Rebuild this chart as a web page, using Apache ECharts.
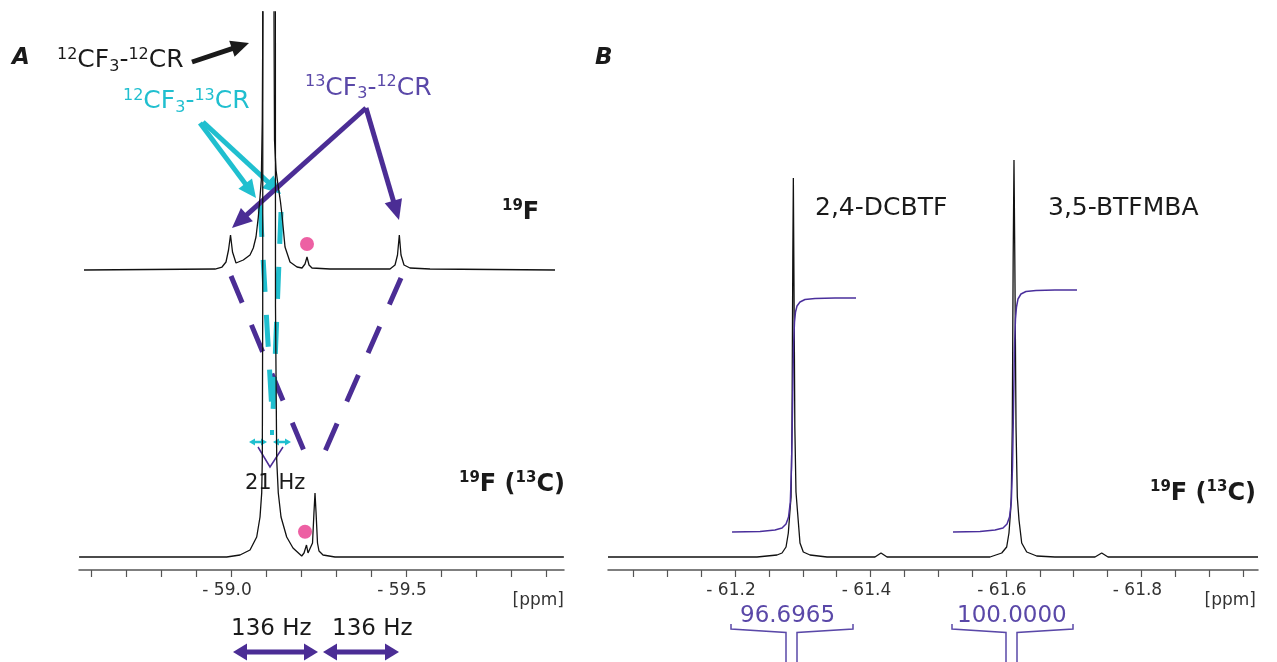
<!DOCTYPE html>
<html><head><meta charset="utf-8">
<script src="https://cdn.jsdelivr.net/npm/echarts@6/dist/echarts.min.js"></script>
<style>html,body{margin:0;padding:0;background:#fff}#c{width:1277px;height:662px}</style>
</head><body><div id="c"></div>
<script>
// ---------- DATA (ppm, intensity above the spectrum's own baseline) ----------
// Panel A, top trace: 19F
const specA_19F = [
 [-58.58,0],[-58.9543,1],[-58.9743,3],[-58.9857,8],[-58.9929,20],[-58.9986,35],[-59.0043,18],
 [-59.0143,7],[-59.0351,10],[-59.0543,15],[-59.0637,22],[-59.0714,33],[-59.0780,53],[-59.0829,73],
 [-59.0866,90],[-59.0894,150],[-59.0909,250],[-59.0920,1000],[-59.1071,3000],[-59.1214,1000],
 [-59.1229,250],[-59.1243,130],[-59.1286,100],[-59.1343,85],[-59.1414,68],[-59.1457,55],
 [-59.1543,23],[-59.1686,8],[-59.1886,3],[-59.2029,2],[-59.2114,6],[-59.2171,13],[-59.2229,5],
 [-59.2314,2],[-59.2829,1],[-59.4543,1],[-59.4686,5],[-59.4757,15],[-59.4809,35],[-59.4857,15],
 [-59.4943,5],[-59.5114,2],[-59.5686,1],[-59.9257,0]
];
// Panel A, bottom trace: 19F (13C)
const specA_19F13C = [
 [-58.5660,0],[-58.9877,0],[-59.0257,2],[-59.0543,7],[-59.0734,20],[-59.0829,40],[-59.0877,64],
 [-59.0894,97],[-59.0906,250],[-59.0920,2000],[-59.1086,5000],[-59.1251,2000],[-59.1271,250],
 [-59.1306,97],[-59.1351,64],[-59.1429,40],[-59.1591,20],[-59.1771,9],[-59.2020,1],[-59.2086,4],
 [-59.2157,12],[-59.2200,4],[-59.2257,2],[-59.2329,14],[-59.2371,45],[-59.2400,64],[-59.2429,45],
 [-59.2471,14],[-59.2514,6],[-59.2629,2],[-59.2971,0],[-59.9510,0]
];
// Panel B: 19F (13C) with integrals
const specB = [
 [-61.0125,0],[-61.2325,0],[-61.2620,2],[-61.2694,4],[-61.2753,10],[-61.2787,24],[-61.2812,47],
 [-61.2827,60],[-61.2841,130],[-61.2853,300],[-61.2861,379],[-61.2868,300],[-61.2883,130],
 [-61.2900,65],[-61.2923,45],[-61.2959,14],[-61.3008,5],[-61.3107,2],[-61.3358,0],[-61.4066,0],
 [-61.4155,4],[-61.4244,0],[-61.5764,0],[-61.5937,4],[-61.6010,10],[-61.6044,24],[-61.6069,47],
 [-61.6078,60],[-61.6093,130],[-61.6106,300],[-61.6118,397],[-61.6130,300],[-61.6148,130],
 [-61.6167,60],[-61.6192,37],[-61.6232,14],[-61.6306,5],[-61.6453,1],[-61.6723,0],[-61.7314,0],
 [-61.7413,4],[-61.7506,0],[-61.9720,0]
];
const integralB1 = [
 [-61.1956,25],[-61.2369,25.5],[-61.2590,27],[-61.2694,29],[-61.2753,33],[-61.2790,40],[-61.2816,55],
 [-61.2834,90],[-61.2849,150],[-61.2863,210],[-61.2878,235],[-61.2893,245],[-61.2915,251],
 [-61.2959,255],[-61.3033,257.5],[-61.3181,258.5],[-61.3476,259],[-61.3786,259]
];
const integralB2 = [
 [-61.5218,25],[-61.5616,25.5],[-61.5838,27],[-61.5956,29],[-61.6015,33],[-61.6052,40],[-61.6078,55],
 [-61.6096,90],[-61.6111,150],[-61.6125,210],[-61.6140,238],[-61.6155,250],[-61.6177,258],
 [-61.6221,263],[-61.6295,265.5],[-61.6443,266.5],[-61.6723,267],[-61.7048,267]
];
const integralValues = ['96.6965', '100.0000'];
// impurity markers (ppm, height above trace baseline)
const dotTop = [[-59.2171, 26]];
const dotBottom = [[-59.2114, 25.3]];
// axis ticks / labels
const ticksA = [-58.6,-58.7,-58.8,-58.9,-59.0,-59.1,-59.2,-59.3,-59.4,-59.5,-59.6,-59.7,-59.8,-59.9];
const labelsA = [-59.0,-59.5];
const ticksB = [-61.05,-61.1,-61.15,-61.2,-61.25,-61.3,-61.35,-61.4,-61.45,-61.5,-61.55,-61.6,-61.65,-61.7,-61.75,-61.8,-61.85,-61.9,-61.95];
const labelsB = [-61.2,-61.4,-61.6,-61.8];

// ---------- LAYOUT / STYLE ----------
const BASE_LOW = 13, BASE_HIGH = 300;
const FONT = 'DejaVu Sans';
const BLACK = '#1a1a1a', CYAN = '#20bfcf', PURPLE = '#4b2d95', PURPLE_T = '#5a48a8', PINK = '#e8388c';
const shift = (arr, off) => arr.map(p => [p[0], p[1] + off]);

function xAxisCfg(gi, min, max, ticks, labels) {
  return {
    type: 'value', gridIndex: gi, min: min, max: max, inverse: true,
    axisLine: { lineStyle: { color: '#555', width: 1.5 } },
    axisTick: { customValues: ticks, length: 7, lineStyle: { color: '#555', width: 1.2 } },
    axisLabel: { customValues: labels, margin: 12, color: '#333', fontFamily: FONT, fontSize: 17,
      padding: [0, 8, 0, 0],
      formatter: v => '- ' + Math.abs(v).toFixed(1) },
    splitLine: { show: false }
  };
}
function yAxisCfg(gi) { return { type: 'value', gridIndex: gi, min: 0, max: 558, show: false }; }

function lineSeries(xi, data, color, w, z) {
  return { type: 'line', xAxisIndex: xi, yAxisIndex: xi, data: data, showSymbol: false, symbol: 'none',
    lineStyle: { color: color, width: w }, z: z, silent: true, clip: true };
}

// annotation helpers
function arrow(x1, y1, x2, y2, color, lw, hl, hw, both) {
  const dx = x2 - x1, dy = y2 - y1, L = Math.hypot(dx, dy), ux = dx / L, uy = dy / L, px = -uy, py = ux;
  const head = (tx, ty, sx, sy) => {
    const bx = tx - sx * hl, by = ty - sy * hl;
    return { type: 'polygon', silent: true, shape: { points: [[tx, ty], [bx + px * hw / 2, by + py * hw / 2], [bx - px * hw / 2, by - py * hw / 2]] }, style: { fill: color } };
  };
  const sx1 = both ? x1 + ux * (hl - 1) : x1, sy1 = both ? y1 + uy * (hl - 1) : y1;
  const els = [{ type: 'line', silent: true, shape: { x1: sx1, y1: sy1, x2: x2 - ux * (hl - 1), y2: y2 - uy * (hl - 1) }, style: { stroke: color, lineWidth: lw } }];
  els.push(head(x2, y2, ux, uy));
  if (both) els.push(head(x1, y1, -ux, -uy));
  return els;
}
function dashed(x1, y1, x2, y2, color, lw, dash) {
  return { type: 'line', silent: true, shape: { x1, y1, x2, y2 }, style: { stroke: color, lineWidth: lw, lineDash: dash, lineCap: 'butt' } };
}
function txt(x, y, text, size, color, opts) {
  opts = opts || {};
  return { type: 'text', silent: true, x: x, y: y, style: Object.assign({ text: text, fill: color,
    font: (opts.style || '') + ' ' + (opts.weight || 'normal') + ' ' + size + 'px "' + FONT + '"',
    textAlign: opts.align || 'left', textVerticalAlign: 'middle' }, opts.rich ? { rich: opts.rich } : {}) };
}
function richSet(size, supSize, weight) {
  return {
    n: { fontFamily: FONT, fontSize: size, fontWeight: weight, lineHeight: 28, verticalAlign: 'middle' },
    sup: { fontFamily: FONT, fontSize: supSize, fontWeight: weight, lineHeight: 18, verticalAlign: 'top' },
    sub: { fontFamily: FONT, fontSize: supSize, fontWeight: weight, lineHeight: 12, verticalAlign: 'bottom' }
  };
}
function bracket(xl, xr, s1, s2, color) {
  return [
    { type: 'polyline', silent: true, shape: { points: [[xl, 624], [xl, 629], [s1, 632.5], [s1, 662]] }, style: { stroke: color, lineWidth: 1.5, fill: null } },
    { type: 'polyline', silent: true, shape: { points: [[s2, 662], [s2, 632.5], [xr, 629], [xr, 624]] }, style: { stroke: color, lineWidth: 1.5, fill: null } }
  ];
}

const graphics = [].concat(
  txt(12, 58.5, 'A', 23, BLACK, { weight: 'bold', style: 'italic' }),
  txt(595, 58.5, 'B', 23, BLACK, { weight: 'bold', style: 'italic' }),
  txt(57, 60.5, '{sup|12}{n|CF}{sub|3}{n|-}{sup|12}{n|CR}', 25, BLACK, { rich: richSet(25, 16, 'normal') }),
  txt(123, 101.5, '{sup|12}{n|CF}{sub|3}{n|-}{sup|13}{n|CR}', 25, CYAN, { rich: richSet(25, 16, 'normal') }),
  txt(305, 88, '{sup|13}{n|CF}{sub|3}{n|-}{sup|12}{n|CR}', 25, PURPLE_T, { rich: richSet(25, 16, 'normal') }),
  txt(502, 212.5, '{sup|19}{n|F}', 24, BLACK, { rich: richSet(24, 15, 'bold') }),
  txt(565, 485, '{sup|19}{n|F (}{sup|13}{n|C)}', 24, BLACK, { align: 'right', rich: richSet(24, 15, 'bold') }),
  txt(1256, 494, '{sup|19}{n|F (}{sup|13}{n|C)}', 24, BLACK, { align: 'right', rich: richSet(24, 15, 'bold') }),
  txt(815, 208, '2,4-DCBTF', 25, BLACK),
  txt(1048, 208, '3,5-BTFMBA', 25, BLACK),
  txt(564, 601, '[ppm]', 17, '#333', { align: 'right' }),
  txt(1256, 601, '[ppm]', 17, '#333', { align: 'right' }),
  // dashed guide lines
  dashed(231, 276, 307, 458, PURPLE, 5, [29, 24]),
  dashed(401, 278, 322, 458, PURPLE, 5, [29, 24]),
  dashed(260, 205, 272, 412, CYAN, 5, [32, 23]),
  dashed(281, 212, 273, 412, CYAN, 5, [32, 23]),
  { type: 'rect', silent: true, shape: { x: 270, y: 430, width: 4, height: 5 }, style: { fill: CYAN } },
  // arrows
  arrow(192, 62, 249, 43, BLACK, 5, 18, 17),
  arrow(200, 123, 256, 198, CYAN, 5, 18, 17),
  arrow(203, 122, 281, 194, CYAN, 5, 18, 17),
  arrow(366, 108, 232, 228, PURPLE, 5, 20, 18),
  arrow(366, 108, 399, 220, PURPLE, 5, 20, 18),
  arrow(249, 442, 267, 442, CYAN, 2.5, 6, 7, true),
  arrow(273, 442, 291, 442, CYAN, 2.5, 6, 7, true),
  { type: 'polyline', silent: true, shape: { points: [[258, 447], [270, 467], [283, 447]] }, style: { stroke: PURPLE, lineWidth: 1.5, fill: null } },
  txt(245, 484, '21 Hz', 21, BLACK),
  txt(231, 629.5, '136 Hz', 23, BLACK),
  txt(332, 629.5, '136 Hz', 23, BLACK),
  arrow(233, 652, 318, 652, PURPLE, 5, 14, 17, true),
  arrow(323, 652, 399, 652, PURPLE, 5, 14, 17, true),
  // integrals
  txt(740, 616.5, integralValues[0], 23, PURPLE_T),
  txt(957, 616.5, integralValues[1], 23, PURPLE_T),
  bracket(731, 853, 786, 797, PURPLE_T),
  bracket(952, 1073, 1006, 1017, PURPLE_T)
);

const chart = echarts.init(document.getElementById('c'), null, { renderer: 'canvas' });
chart.setOption({
  animation: false,
  backgroundColor: '#fff',
  grid: [
    { left: 79, width: 485, top: 12, height: 558 },
    { left: 608, width: 650, top: 12, height: 558 }
  ],
  xAxis: [
    xAxisCfg(0, -59.9514, -58.5657, ticksA, labelsA),
    xAxisCfg(1, -61.972, -61.0125, ticksB, labelsB)
  ],
  yAxis: [yAxisCfg(0), yAxisCfg(1)],
  series: [
    lineSeries(0, shift(specA_19F13C, BASE_LOW), '#111', 1.3, 3),
    lineSeries(0, shift(specA_19F, BASE_HIGH), '#111', 1.3, 3),
    lineSeries(1, shift(specB, BASE_LOW), '#111', 1.3, 3),
    lineSeries(1, shift(integralB1, BASE_LOW), '#4a2f9c', 1.5, 4),
    lineSeries(1, shift(integralB2, BASE_LOW), '#4a2f9c', 1.5, 4),
    { type: 'scatter', xAxisIndex: 0, yAxisIndex: 0, data: shift(dotTop, BASE_HIGH).concat(shift(dotBottom, BASE_LOW)),
      symbolSize: 14, itemStyle: { color: PINK }, z: 5, silent: true }
  ],
  graphic: graphics
});
</script></body></html>
